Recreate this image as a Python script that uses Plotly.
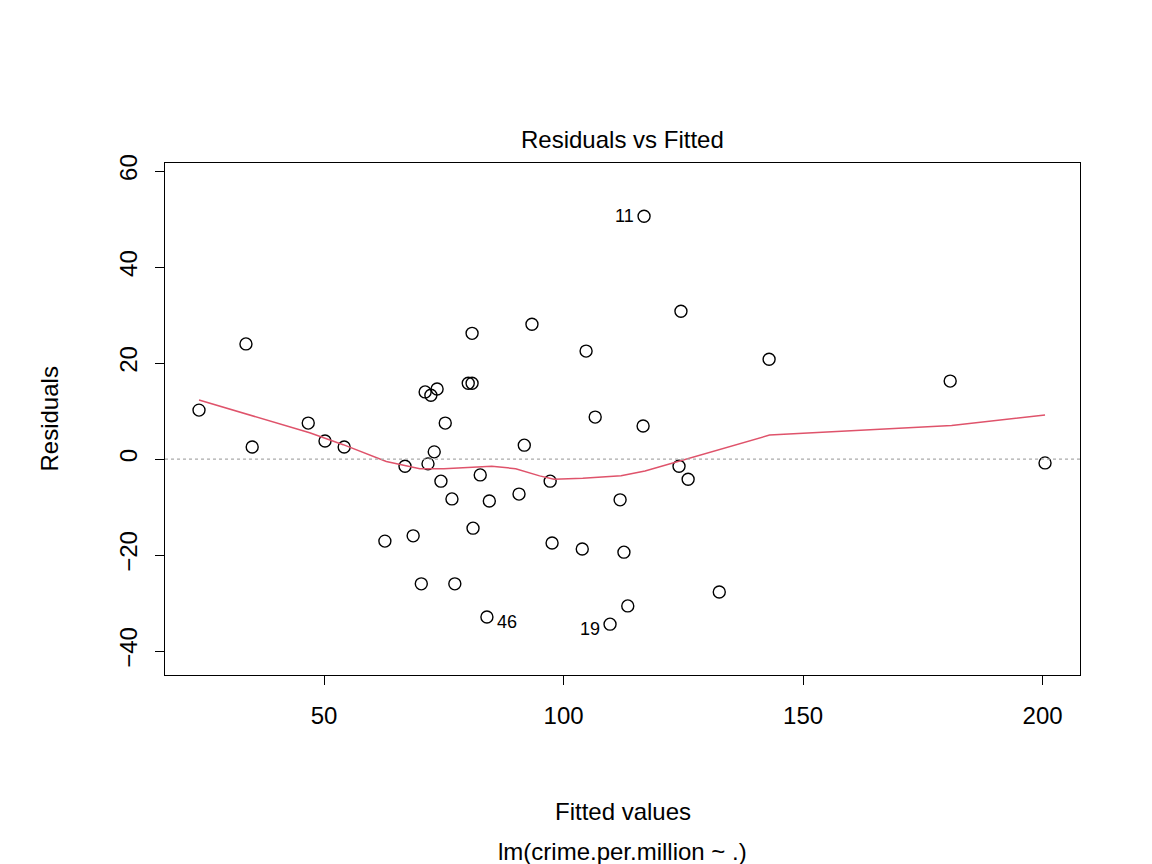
import plotly.graph_objects as go

fitted = [23.9, 33.7, 35.0, 46.7, 50.2, 54.2, 62.7, 66.9, 68.6, 70.3, 71.1, 71.7,
          72.3, 73.0, 73.6, 74.4, 75.3, 76.7, 77.3, 80.1, 80.9, 80.9, 81.1, 82.6,
          84.0, 84.5, 90.7, 91.8, 93.4, 97.2, 97.6, 103.9, 104.7, 106.6, 109.7,
          111.8, 112.6, 113.4, 116.6, 116.8, 124.1, 124.5, 126.0, 132.5, 142.9,
          180.7, 200.5]
resid = [10.2, 24.0, 2.5, 7.5, 3.75, 2.5, -17.1, -1.5, -16.0, -26.0, 14.0, -1.0,
         13.3, 1.5, 14.6, -4.6, 7.5, -8.3, -26.0, 15.8, 15.8, 26.2, -14.4, -3.3,
         -32.9, -8.75, -7.3, 2.9, 28.1, -4.6, -17.5, -18.75, 22.5, 8.75, -34.4,
         -8.5, -19.4, -30.6, 6.9, 50.6, -1.5, 30.8, -4.2, -27.7, 20.8, 16.25, -0.8]

smooth_x = [23.9, 35, 47, 54, 63, 70, 75, 85, 90, 95, 98, 104, 107, 112, 117,
            124, 132.5, 143, 181, 200.5]
smooth_y = [12.3, 9, 5.5, 3, -0.5, -2, -2, -1.5, -2, -3.5, -4.2, -4, -3.8, -3.5,
            -2.5, -0.5, 2, 5, 7, 9.2]

fig = go.Figure()
fig.add_hline(y=0, line=dict(color="#aaaaaa", dash="dot", width=1.2))
fig.add_trace(go.Scatter(x=fitted, y=resid, mode="markers",
                         marker=dict(symbol="circle-open", size=12, color="black",
                                     line=dict(width=1.4))))
fig.add_trace(go.Scatter(x=smooth_x, y=smooth_y, mode="lines",
                         line=dict(color="#DF536B", width=1.5)))

labels = [(116.8, 50.6, "11", "left"), (109.7, -34.4, "19", "left"), (84.0, -32.9, "46", "right")]
for x, y, t, side in labels:
    fig.add_annotation(x=x, y=y, text=t, showarrow=False,
                       xanchor="right" if side == "left" else "left",
                       xshift=-8 if side == "left" else 8,
                       yshift=0 if t == "11" else -5,
                       font=dict(size=18, color="black"))

# axis titles placed by pixel like R's mtext
def paper_y(py):
    return (667 - py) / (667 - 155)

for text, py in [("Fitted values", 803), ("lm(crime.per.million ~ .)", 843)]:
    fig.add_annotation(x=0.5, y=paper_y(py), xref="paper", yref="paper",
                       showarrow=False, yanchor="middle", text=text,
                       font=dict(size=24, color="black"))
fig.add_annotation(x=(25 - 157) / (1072 - 157), y=paper_y(411), xref="paper",
                   yref="paper", showarrow=False, textangle=-90, text="Residuals",
                   font=dict(size=24, color="black"))
fig.add_annotation(x=0.5, y=paper_y(131), xref="paper", yref="paper",
                   showarrow=False, yanchor="middle", text="Residuals vs Fitted",
                   font=dict(size=24, color="black"))

axis = dict(showline=True, mirror=True, linecolor="black", linewidth=1,
            ticks="outside", ticklen=9, tickcolor="black", showgrid=False,
            zeroline=False, automargin=False, tickfont=dict(size=24, color="black"))
fig.update_layout(
    width=1152, height=864, plot_bgcolor="white", paper_bgcolor="white",
    showlegend=False,
    font=dict(family="Liberation Sans, Arial", color="black"),
    margin=dict(l=157, r=80, t=155, b=197),
    xaxis=dict(axis, range=[16.8, 207.8], tickvals=[50, 100, 150, 200],
               ticklabelstandoff=10),
    yaxis=dict(axis, range=[-45, 61.7], tickvals=[-40, -20, 0, 20, 40, 60],
               tickangle=-90, ticklabelstandoff=8),
)
fig.write_html("out.html")
